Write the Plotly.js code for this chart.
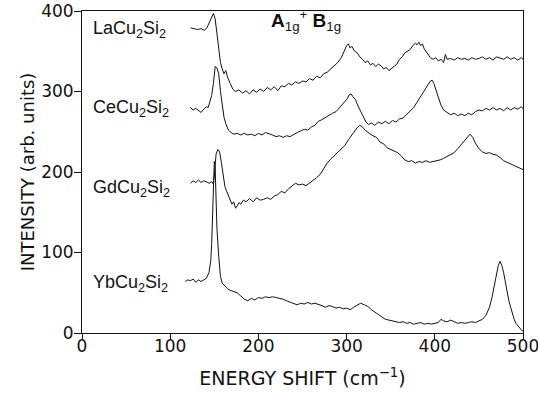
<!DOCTYPE html>
<html><head><meta charset="utf-8">
<script src="https://cdn.plot.ly/plotly-3.0.1.min.js"></script>
<style>html,body{margin:0;padding:0;background:#fff}#c{width:538px;height:393px}</style>
</head><body><div id="c"></div><script>
const laX=[123,127,131,135,139,142,145,148,149,151,153,155,157,159,161,163,165,168,171,174,178,182,186,190,194,198,202,206,210,214,218,222,226,230,234,238,242,246,250,254,258,262,266,270,274,278,282,286,290,294,297,300,302,304,306,309,312,315,318,321,324,327,330,333,336,339,342,345,348,351,354,357,360,363,366,369,372,375,378,380,382,384,386,388,390,392,395,398,401,404,407,410,412,414,418,422,426,430,434,438,442,446,450,454,458,462,466,470,474,478,482,486,490,494,498,500];
const laY=[379,378,377,378,376,380,388,395,397,390,370,350,336,328,322,326,318,310,303,300,302,298,301,297,302,299,303,300,305,302,306,301,307,306,310,308,312,310,313,312,316,314,319,317,322,324,328,331,336,342,350,357,359,354,356,350,348,343,340,336,338,333,335,331,334,332,328,330,326,329,331,334,340,343,348,350,352,357,360,358,361,357,359,353,350,346,342,340,342,338,340,336,346,340,341,339,342,340,341,339,342,340,341,343,340,342,339,343,341,340,343,340,342,339,342,340];
const ceX=[123,126,129,132,135,138,141,143,145,147,149,150,151,153,155,157,159,161,163,166,169,172,176,180,184,188,192,196,200,204,208,212,216,220,224,228,232,236,240,244,248,252,256,260,264,268,272,276,280,284,288,292,296,300,303,305,307,310,313,316,319,322,325,328,332,336,340,344,348,352,356,360,364,368,372,376,380,384,388,392,395,397,399,401,404,407,410,414,418,422,426,430,434,438,442,446,450,454,458,462,466,470,474,478,482,486,490,494,498,500];
const ceY=[280,277,279,276,274,278,281,280,287,295,310,325,331,329,322,300,280,268,260,252,249,247,248,246,248,246,247,245,248,246,249,247,246,244,245,243,245,244,247,249,251,253,252,256,258,263,265,268,270,273,275,280,284,290,296,297,294,290,282,275,268,262,259,261,258,262,260,263,260,264,262,266,267,271,275,280,287,294,301,308,313,314,310,303,293,283,277,274,271,273,270,272,270,273,271,275,277,276,279,277,280,277,279,276,280,277,280,278,281,279];
const gdX=[123,126,129,132,135,138,141,144,147,149,150,151,152,154,156,158,160,162,164,166,168,170,172,174,176,178,180,183,186,190,194,198,202,206,210,214,218,222,226,230,234,238,242,246,250,254,258,262,266,270,274,278,282,286,290,294,298,302,306,309,312,315,318,321,324,327,330,334,338,342,346,350,354,358,362,366,370,374,378,382,386,390,394,398,402,406,410,414,418,422,426,430,434,438,440,443,446,450,454,458,462,466,470,474,478,482,486,490,494,498,500];
const gdY=[186,189,187,190,187,189,188,186,188,185,195,210,222,228,225,212,195,182,176,170,166,160,163,155,158,162,160,165,163,167,163,168,165,166,168,166,170,172,176,174,179,182,186,184,185,183,186,189,193,197,204,211,216,220,224,229,233,240,246,251,255,258,256,252,249,247,245,243,237,235,230,228,225,224,220,215,213,214,211,213,212,214,212,213,214,215,217,219,221,224,229,234,240,245,247,243,236,229,225,223,224,222,221,218,214,212,210,208,206,205,203];
const ybX=[117,120,123,126,129,132,135,138,141,144,146,147,148,149,150,151,152,153,155,157,159,162,165,168,172,176,180,184,188,192,196,200,204,208,212,216,220,224,228,232,236,240,244,248,252,256,260,264,268,272,276,280,284,288,292,296,300,304,308,312,316,320,324,328,332,336,340,344,348,352,356,360,364,368,372,376,380,384,388,392,396,400,404,407,410,414,418,422,426,430,434,438,442,446,450,454,458,462,465,468,470,472,474,476,478,480,482,484,486,488,490,492,494,496,498,500];
const ybY=[64,66,65,67,63,66,64,66,68,75,90,110,150,190,213,205,170,130,95,70,62,58,55,53,51,50,46,42,40,43,41,44,43,45,44,45,44,43,42,40,38,36,35,37,36,38,36,37,35,34,32,34,33,31,32,30,31,29,32,35,37,35,33,29,26,22,19,17,16,15,14,13,14,12,13,11,12,13,11,12,11,12,13,17,15,14,16,14,12,13,12,13,14,13,15,17,22,32,45,62,75,84,89,84,75,62,50,40,32,24,17,12,9,6,4,2];
const xTicks=[0,100,200,300,400,500];
const yTicks=[0,100,200,300,400];
const labels=['LaCu<sub>2</sub>Si<sub>2</sub>','CeCu<sub>2</sub>Si<sub>2</sub>','GdCu<sub>2</sub>Si<sub>2</sub>','YbCu<sub>2</sub>Si<sub>2</sub>'];
const labelY=[377,279,180,62];

const line={color:'#111',width:1};
const traces=[[laX,laY],[ceX,ceY],[gdX,gdY],[ybX,ybY]].map(([x,y])=>({x,y,type:'scatter',mode:'lines',line,showlegend:false,hoverinfo:'skip'}));
const font={family:'Liberation Sans, Arial, sans-serif',color:'#111',size:18};
const ann=labels.map((t,i)=>({text:t,x:10,y:labelY[i],xref:'x',yref:'y',xanchor:'left',yanchor:'middle',showarrow:false,font}));
ann.push({text:'<b>A</b><sub>1g</sub><sup>+</sup> <b>B</b><sub>1g</sub>',x:0.425,y:0.972,xref:'paper',yref:'paper',xanchor:'left',yanchor:'middle',showarrow:false,font:{family:'Liberation Sans, Arial, sans-serif',size:19,color:'#111'}});
const axfont={family:'DejaVu Sans, sans-serif',size:17,color:'#111'};
const tfont={family:'DejaVu Sans, sans-serif',size:18,color:'#111'};
Plotly.newPlot('c',traces,{
  width:538,height:393,
  margin:{l:82,r:15,t:11,b:60},
  paper_bgcolor:'#fff',plot_bgcolor:'#fff',
  xaxis:{range:[0,500],tickvals:xTicks,ticks:'outside',ticklen:5,tickcolor:'#111',showgrid:false,zeroline:false,showline:true,linecolor:'#111',linewidth:1,mirror:true,tickfont:axfont,ticklabeloverflow:'allow',ticklabelstandoff:-7,
    title:{text:'ENERGY SHIFT (cm<sup>−1</sup>)',font:{family:'DejaVu Sans, sans-serif',size:19,color:'#111'},standoff:16}},
  yaxis:{range:[0,400],tickvals:yTicks,ticks:'outside',ticklen:7,tickcolor:'#111',showgrid:false,zeroline:false,showline:true,linecolor:'#111',linewidth:1,mirror:true,tickfont:axfont,ticklabelstandoff:-3,
    title:{text:'INTENSITY (arb. units)',font:tfont,standoff:1}},
  annotations:ann
},{displayModeBar:false,staticPlot:true});
</script></body></html>
